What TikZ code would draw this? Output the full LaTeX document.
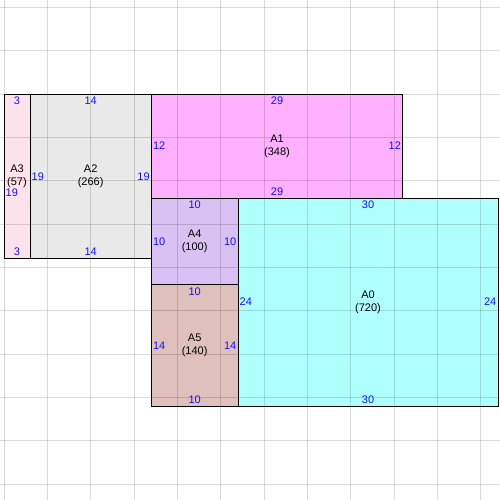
\documentclass[tikz,border=0pt]{standalone}
\usepackage{fontspec}
\setmainfont{Liberation Sans}
\definecolor{cAthree}{HTML}{FFE3EC}
\definecolor{cAtwo}{HTML}{E9E9E9}
\definecolor{cAone}{HTML}{FFB0FF}
\definecolor{cAfour}{HTML}{D9C1F4}
\definecolor{cAfive}{HTML}{E0C0BC}
\definecolor{cAzero}{HTML}{B0FFFF}
\definecolor{dimblue}{HTML}{1414F0}
\begin{document}
\begin{tikzpicture}[x=8.6667pt,y=-8.6667pt,
  area/.style={inner sep=0pt,outer sep=0pt,anchor=north west},
  outline/.style={draw=black,line width=0.95pt},
  gridline/.style={draw=black,opacity=0.15,line width=0.9pt},
  dim/.style={text=dimblue,font=\fontsize{11}{13}\selectfont,inner xsep=1.5pt,inner ysep=2.5pt},
  areaname/.style={align=center,font=\fontsize{11}{13}\selectfont,inner sep=0pt}]
\useasboundingbox[fill=white] (-0.4615,-10.846) rectangle (57.23,46.846);
% filled areas
\node[area,fill=cAthree,minimum width=26pt,minimum height=164.667pt] (A3) at (0,0) {};
\node[area,fill=cAtwo,minimum width=121.333pt,minimum height=164.667pt] (A2) at (3,0) {};
\node[area,fill=cAone,minimum width=251.333pt,minimum height=104pt] (A1) at (17,0) {};
\node[area,fill=cAfour,minimum width=86.667pt,minimum height=86.667pt] (A4) at (17,12) {};
\node[area,fill=cAfive,minimum width=86.667pt,minimum height=121.333pt] (A5) at (17,22) {};
\node[area,fill=cAzero,minimum width=260pt,minimum height=208pt] (A0) at (27,12) {};
% grid
\foreach \x in {0,5,...,55} \draw[gridline] (\x,-10.846) -- (\x,46.846);
\foreach \y in {-10,-5,...,45} \draw[gridline] (-0.4615,\y) -- (57.23,\y);
% outlines
\foreach \r in {A3,A2,A1,A4,A5,A0}
  \draw[outline] (\r.north west) rectangle (\r.south east);
% A3
\node[dim,anchor=north] (A3t) at (A3.north) {3};
\node[dim,anchor=south] (A3b) at (A3.south) {3};
\node[dim,anchor=west] (A3l) at ([yshift=-16.5pt]A3.west) {19};
\node[areaname] (A3n) at (A3.center) {A3\\(57)};
% A2
\node[dim,anchor=north] (A2t) at (A2.north) {14};
\node[dim,anchor=south] (A2b) at (A2.south) {14};
\node[dim,anchor=west] (A2l) at (A2.west) {19};
\node[dim,anchor=east] (A2r) at (A2.east) {19};
\node[areaname] (A2n) at (A2.center) {A2\\(266)};
% A1
\node[dim,anchor=north] (A1t) at (A1.north) {29};
\node[dim,anchor=south] (A1b) at (A1.south) {29};
\node[dim,anchor=west] (A1l) at (A1.west) {12};
\node[dim,anchor=east] (A1r) at (A1.east) {12};
\node[areaname] (A1n) at (A1.center) {A1\\(348)};
% A4
\node[dim,anchor=north] (A4t) at (A4.north) {10};
\node[dim,anchor=west] (A4l) at (A4.west) {10};
\node[dim,anchor=east] (A4r) at (A4.east) {10};
\node[areaname] (A4n) at (A4.center) {A4\\(100)};
% A5
\node[dim,anchor=north] (A5t) at (A5.north) {10};
\node[dim,anchor=south] (A5b) at (A5.south) {10};
\node[dim,anchor=west] (A5l) at (A5.west) {14};
\node[dim,anchor=east] (A5r) at (A5.east) {14};
\node[areaname] (A5n) at (A5.center) {A5\\(140)};
% A0
\node[dim,anchor=north] (A0t) at (A0.north) {30};
\node[dim,anchor=south] (A0b) at (A0.south) {30};
\node[dim,anchor=west] (A0l) at (A0.west) {24};
\node[dim,anchor=east] (A0r) at (A0.east) {24};
\node[areaname] (A0n) at (A0.center) {A0\\(720)};
\end{tikzpicture}
\end{document}
